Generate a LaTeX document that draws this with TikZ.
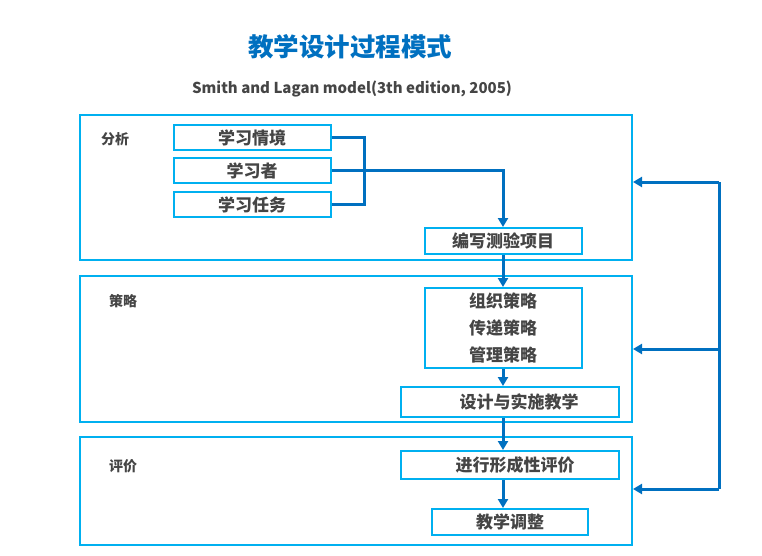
\documentclass[tikz,border=0pt]{standalone}
\usepackage{fontspec}
\setmainfont{Noto Sans CJK SC}
\usetikzlibrary{arrows.meta}
\definecolor{cyanb}{HTML}{00B0F0}
\definecolor{blueb}{HTML}{0070C0}
\definecolor{txt}{HTML}{454545}
\begin{document}
\begin{tikzpicture}[x=1pt,y=-1pt,
  frame/.style={draw=cyanb, line width=2pt, inner sep=0pt},
  box/.style={draw=cyanb, line width=2pt, inner sep=0pt, text=txt, font=\bfseries\fontsize{17}{27}\selectfont, align=center},
  sec/.style={text=txt, font=\bfseries\fontsize{14}{16}\selectfont, inner sep=0pt},
  conn/.style={draw=blueb, line width=3pt},
  arr/.style={conn, -{Triangle[length=9pt,width=10pt]}}]
\useasboundingbox (0,0) rectangle (762,556);
\node[text=blueb, font=\bfseries\fontsize{25.5}{30}\selectfont] (title) at (350,47) {教学设计过程模式};
\node[text=txt, font=\bfseries\fontsize{15}{18}\selectfont] (sub) at (352,89) {Smith and Lagan model(3th edition, 2005)};
% frames
\node[frame, minimum width=552pt, minimum height=145pt] (A) at (356,187.5) {};
\node[frame, minimum width=552pt, minimum height=146pt] (S) at (356,349) {};
\node[frame, minimum width=552pt, minimum height=108pt] (E) at (356,491) {};
\node[sec] (la) at (115,139) {分析};
\node[sec] (ls) at (123,301) {策略};
\node[sec] (le) at (123,466) {评价};
% analysis boxes
\node[box, minimum width=157pt, minimum height=25pt] (b1) at (252,137.5) {\raisebox{-1.5pt}{学习情境}};
\node[box, minimum width=157pt, minimum height=25pt] (b2) at (252,170.5) {\raisebox{-2pt}{学习者}};
\node[box, minimum width=157pt, minimum height=25pt] (b3) at (252,204.5) {\raisebox{-2pt}{学习任务}};
\node[box, minimum width=157pt, minimum height=26pt] (test) at (503,241) {\raisebox{-1.5pt}{编写测验项目}};
% strategy
\node[box, minimum width=157pt, minimum height=80pt] (strat) at (503,328) {组织策略\\传递策略\\管理策略};
\node[box, minimum width=218pt, minimum height=30pt] (impl) at (510,402) {\hspace*{18pt}\raisebox{-2pt}{设计与实施教学}};
% evaluation
\node[box, minimum width=218pt, minimum height=28pt] (ev) at (510,465) {\hspace*{10pt}\raisebox{-2pt}{进行形成性评价}};
\node[box, minimum width=156pt, minimum height=26pt] (adj) at (510,522) {\raisebox{-2pt}{教学调整}};
% connectors
\coordinate (br) at (364,0);
\draw[conn] (b1.east) -| (br |- b3.east) -- (b3.east);
\draw[arr] (b2.east) -| (test.north);
\draw[arr] (test.south) -- (test.south |- strat.north);
\draw[arr] (strat.south) -- (strat.south |- impl.north);
\draw[arr] (strat.south |- impl.south) -- (strat.south |- ev.north);
\draw[arr] (strat.south |- ev.south) -- (strat.south |- adj.north);
% feedback
\coordinate (f1) at (719,182);
\coordinate (f2) at (719,349);
\coordinate (f3) at (719,489);
\draw[conn] (f1) -- (f3);
\draw[arr] (f1) -- (f1 -| A.east);
\draw[arr] (f2) -- (f2 -| S.east);
\draw[arr] (f3) -- (f3 -| E.east);
\end{tikzpicture}
\end{document}
